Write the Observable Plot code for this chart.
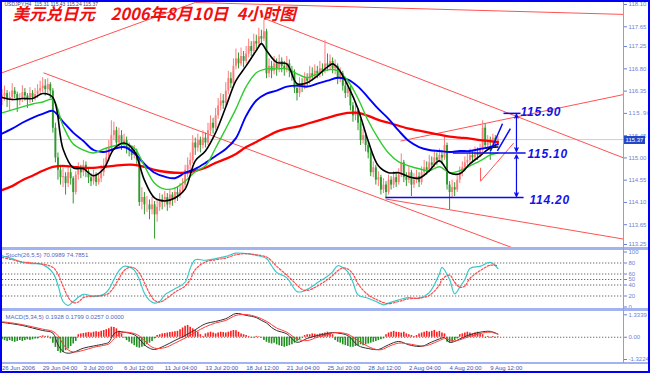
<!DOCTYPE html>
<html><head><meta charset="utf-8">
<script src="https://cdn.jsdelivr.net/npm/d3@7"></script>
<script src="https://cdn.jsdelivr.net/npm/@observablehq/plot@0.6"></script>
<style>
html,body{margin:0;padding:0;background:#fff;}
#wrap{position:relative;width:650px;height:373px;overflow:hidden;background:#fff;}
.pane{position:absolute;left:0;}
.pane svg{display:block;}
.sep{position:absolute;left:2px;width:646px;height:3px;background:#a3b3ef;}
#vaxis{position:absolute;left:623px;top:2px;width:1px;height:361px;background:#8a9cf0;}
#frame{position:absolute;left:0;top:0;width:646px;height:369px;border:2px solid #0000f4;}
#price{position:absolute;left:624px;width:21px;height:8px;background:#2646c8;color:#fff;font:6px "Liberation Sans",sans-serif;line-height:8px;text-align:center;}
</style></head><body>
<div id="wrap">
  <div id="main" class="pane" style="top:0"></div>
  <div id="stoch" class="pane" style="top:248px"></div>
  <div id="macd" class="pane" style="top:311px"></div>
  <div class="sep" style="top:247px"></div>
  <div class="sep" style="top:308px"></div>
  <div class="sep" style="top:362px;height:2px"></div>
  <div id="vaxis"></div>
  <div id="price">115.37</div>
  <div id="frame"></div>
</div>
<script>
// ---------- DATA ----------
const titleParts = ["美元兑日元", "2006年8月10日", "4小时图"];
const symbolLegend = "USDJPY,H4  115.31 115.43 115.24 115.37";
const stochLegend = "Stoch(26,5,5) 70.0989 74.7851";
const macdLegend = "MACD(5,34,5) 0.1928 0.1799 0.0257 0.0000";
const bid = 115.37;
const firstOpen = 116.20;

const close = [
116.25,116.30,116.18,116.22,116.35,116.28,116.15,116.20,116.32,116.25,116.18,116.30,116.22,116.28,116.35,116.40,116.45,116.38,116.48,116.35,
115.60,115.00,114.75,114.60,
114.62,114.48,114.70,114.58,114.30,114.65,114.78,114.70,114.85,114.72,114.60,114.52,114.65,114.50,114.58,
114.70,114.85,115.00,115.20,115.45,115.55,115.30,115.45,115.25,115.35,115.20,
115.15,115.05,115.10,114.95,114.10,114.20,114.05,114.05,113.95,114.05,113.85,114.00,114.15,
114.10,114.20,114.05,114.25,114.15,114.30,114.25,114.35,114.45,114.75,
114.85,114.95,115.30,115.20,115.35,115.25,115.40,115.30,115.55,115.70,115.60,115.85,116.05,116.15,116.10,116.35,116.60,116.50,116.85,117.00,116.90,117.05,116.95,117.10,117.25,117.15,117.35,117.30,117.45,117.40,117.55,
116.70,116.85,116.75,116.90,116.80,116.95,116.85,116.80,116.90,116.75,116.70,116.40,116.30,116.50,116.45,116.60,116.55,116.70,116.65,116.75,116.70,116.80,116.75,116.90,116.85,116.95,116.80,
116.85,116.60,116.70,116.45,116.30,116.40,116.05,115.85,115.95,115.70,115.35,115.45,115.25,115.10,114.70,114.80,114.55,114.60,114.35,114.45,114.30,
114.55,114.45,114.60,114.50,114.65,114.90,114.60,114.55,114.70,114.45,114.55,114.62,114.50,114.70,114.80,114.75,114.90,114.85,115.00,114.95,115.05,115.00,115.25,114.45,114.30,114.40,114.35,114.55,
114.70,114.80,114.90,114.95,115.05,115.00,115.10,115.05,115.15,115.60,115.25,115.35,115.30,115.40,115.31,115.37];

const high = [
116.38,116.45,116.36,116.33,116.50,116.42,116.33,116.30,116.46,116.40,116.30,116.42,116.36,116.40,116.48,116.55,116.62,116.58,116.60,116.52,
116.40,115.70,115.10,114.85,114.80,114.70,114.80,114.78,114.62,114.72,114.90,114.85,114.95,114.92,114.80,114.68,114.75,114.70,114.68,114.85,
114.98,115.20,115.35,115.75,115.72,115.62,115.60,115.55,115.48,115.42,115.30,115.22,115.25,115.18,115.00,114.40,114.30,114.22,114.15,114.20,
114.12,114.15,114.28,114.25,114.32,114.28,114.35,114.30,114.40,114.42,114.48,114.58,114.85,115.00,115.10,115.45,115.40,115.48,115.42,115.55,
115.50,115.70,115.85,115.80,116.00,116.20,116.30,116.28,116.52,116.75,116.72,117.00,117.20,117.12,117.22,117.15,117.25,117.40,117.35,117.50,
117.48,117.62,117.58,117.78,117.60,117.00,116.95,117.05,117.00,117.08,117.02,116.95,117.05,116.98,116.85,116.78,116.50,116.62,116.60,116.72,
116.70,116.85,116.82,116.88,116.85,116.95,116.90,117.37,117.10,117.08,117.02,116.98,116.90,116.82,116.75,116.52,116.55,116.45,116.12,116.08,
116.00,115.78,115.58,115.50,115.32,115.15,114.92,114.85,114.72,114.65,114.58,114.52,114.65,114.62,114.72,114.68,114.78,115.08,114.95,114.70,
114.82,114.75,114.68,114.75,114.70,114.82,114.95,114.92,115.05,115.02,115.15,115.10,115.18,115.15,115.45,115.30,114.52,114.55,114.50,114.68,
114.82,114.92,115.02,115.08,115.18,115.15,115.22,115.20,115.28,115.75,115.68,115.45,115.42,115.48,115.45,115.43];

const low = [
116.05,116.15,116.02,115.95,116.15,116.20,115.92,116.05,116.12,116.15,116.00,116.10,116.12,116.15,116.20,116.28,116.32,116.25,116.30,116.20,
115.50,114.90,114.55,114.45,114.40,114.25,114.40,114.45,114.07,114.25,114.55,114.58,114.62,114.60,114.48,114.42,114.45,114.42,114.45,114.50,
114.62,114.78,114.92,115.12,115.35,115.20,115.22,115.15,115.18,115.08,115.02,114.95,114.98,114.85,114.02,113.95,113.85,113.90,113.75,113.85,
113.36,113.70,113.92,113.95,114.00,113.92,113.98,114.02,114.08,114.12,114.18,114.28,114.38,114.60,114.72,114.88,115.05,115.12,115.10,115.18,
115.20,115.25,115.45,115.48,115.55,115.78,115.95,115.98,116.05,116.28,116.40,116.45,116.78,116.80,116.85,116.82,116.90,117.02,117.05,117.10,
117.18,117.22,117.30,117.35,116.60,116.62,116.60,116.68,116.65,116.72,116.72,116.65,116.72,116.62,116.55,116.30,116.15,116.22,116.32,116.38,
116.42,116.48,116.55,116.58,116.60,116.62,116.65,116.70,116.75,116.78,116.70,116.68,116.48,116.52,116.35,116.20,116.22,115.95,115.72,115.75,
115.55,115.25,115.28,115.12,114.98,114.62,114.60,114.45,114.42,114.25,114.28,114.18,114.25,114.35,114.38,114.40,114.45,114.60,114.50,114.42,
114.48,114.22,114.38,114.48,114.40,114.45,114.62,114.65,114.70,114.75,114.80,114.85,114.90,114.88,114.95,114.35,113.95,114.20,114.22,114.30,
114.48,114.62,114.72,114.82,114.88,114.90,114.95,114.95,115.00,115.10,115.18,115.20,114.95,115.22,115.20,115.24];

// moving averages
const blackIdx = [0,4,8,12,16,20,24,28,32,36,40,44,48,52,56,60,64,68,72,76,80,84,88,92,96,100,102,104,108,112,116,120,124,128,130,132,136,140,144,148,152,156,160,164,168,172,176,180,184,188,192,195];
const blackMA = [116.22,116.18,116.20,116.20,116.30,116.22,115.18,114.80,114.78,114.64,114.78,115.18,115.30,115.14,114.55,114.19,114.13,114.19,114.37,114.94,115.14,115.51,116.03,116.56,116.86,117.17,117.31,117.17,116.93,116.90,116.50,116.52,116.66,116.84,116.90,116.82,116.46,115.99,115.34,114.84,114.70,114.70,114.62,114.59,114.74,114.94,114.70,114.68,114.88,115.04,115.20,115.22];
const maIdx = [0,4,8,12,16,20,24,28,32,36,40,44,48,52,56,60,64,68,72,76,80,84,88,92,96,100,104,108,112,116,120,124,128,132,136,140,144,148,152,156,160,164,168,172,176,180,184,188,192,195];
const greenMA = [115.91,115.97,116.03,116.09,116.13,116.18,115.65,115.28,115.16,115.10,115.18,115.24,115.28,115.20,114.84,114.49,114.37,114.39,114.53,114.72,114.84,115.20,115.59,115.99,116.44,116.72,116.80,116.80,116.80,116.70,116.62,116.70,116.78,116.76,116.56,116.20,115.75,115.39,115.10,114.92,114.84,114.78,114.74,114.82,114.70,114.74,114.84,114.94,115.06,115.10];
const blueMA = [115.49,115.59,115.71,115.81,115.89,115.95,115.73,115.51,115.34,115.16,115.12,115.18,115.22,115.10,114.88,114.70,114.62,114.59,114.70,114.78,114.90,115.04,115.18,115.40,115.85,116.16,116.30,116.36,116.44,116.46,116.44,116.50,116.56,116.62,116.58,116.44,116.22,115.99,115.79,115.55,115.34,115.22,115.16,115.14,115.12,115.14,115.14,115.18,115.22,115.28];
const redMA = [114.35,114.43,114.55,114.64,114.74,114.82,114.84,114.82,114.80,114.80,114.82,114.84,114.86,114.86,114.82,114.76,114.72,114.70,114.70,114.74,114.80,114.90,114.98,115.08,115.22,115.32,115.43,115.53,115.59,115.63,115.69,115.75,115.81,115.87,115.91,115.91,115.85,115.77,115.71,115.65,115.59,115.55,115.51,115.47,115.43,115.41,115.39,115.36,115.34,115.32];

// drawn trend lines: [bar index, price] start and end
const trendStartX = [0, 76, 103, 16.3, 150.8, 156.7, 188.2, 188.2];
const trendStartY = [116.72, 118.14, 117.82, 116.72, 114.17, 115.34, 114.53, 114.80];
const trendEndX   = [76, 244.4, 244.4, 202, 244.4, 244.4, 201.2, 188.2];
const trendEndY   = [118.14, 117.90, 115.00, 113.16, 113.36, 116.28, 115.30, 114.53];

// blue annotation segments
const blueStartX = [150.8, 177.3, 197.2, 192.1, 194.8];
const blueStartY = [114.20, 115.10, 115.90, 115.14, 115.14];
const blueEndX   = [205.1, 205.9, 203.9, 196.8, 199.9];
const blueEndY   = [114.20, 115.10, 115.90, 115.69, 115.59];
// arrows (drawn from mid outwards)
const arrowX = 202.3;
const arrowFrom = [115.50, 115.50, 114.64, 114.64];
const arrowTo   = [115.88, 115.13, 115.06, 114.22];
// level labels
const levelText = ["115.90", "115.10", "114.20"];
const levelX = [203.9, 206.6, 207.4];
const levelY = [115.93, 115.07, 114.15];

const priceTicks = [113.25,113.65,114.10,114.55,115.00,115.45,115.90,116.35,116.80,117.25,117.65,118.10];

// Stochastic
const stochIdx = [0,4,8,12,16,20,22,24,26,28,32,36,40,42,44,46,48,50,52,54,56,58,60,62,64,68,72,74,76,80,84,88,92,96,100,104,106,108,112,116,118,120,124,128,130,132,134,136,138,140,144,148,150,152,156,160,164,168,172,173,176,178,180,182,184,188,192,195];
const stochMain = [93,88,81,79,77,62,40,10,3,10,23,19,23,32,50,66,74,73,67,50,25,12,7,10,22,33,45,70,86,85,88,92,98,97,94,88,75,63,53,28,28,32,44,56,64,75,72,64,45,22,16,8,4,7,13,17,16,26,60,72,50,24,36,50,70,74,81,70];
const signalIdx = [0,4,8,12,16,20,22,24,26,28,30,32,36,40,42,44,46,48,50,52,54,56,58,60,62,64,68,72,74,76,80,84,88,92,96,100,104,106,108,112,116,118,120,124,128,130,132,134,136,138,140,144,148,150,152,156,160,164,168,172,173,176,178,180,182,184,188,192,195];
const stochSignal = [90,86,82,80,78,72,60,38,18,8,9,17,20,21,25,36,52,66,72,71,62,44,25,12,9,13,27,38,50,68,82,86,89,95,97,95,91,84,74,58,40,32,30,38,50,57,66,71,69,60,42,22,12,8,6,10,15,16,21,40,50,58,45,36,38,52,66,76,75];
const stochLevels = [20,40,50,60,80];
const stochTicks = [0,20,40,50,60,80,100];

// MACD
const macdHist = [
-0.15,-0.2,-0.25,-0.2,-0.25,-0.3,-0.25,-0.2,-0.25,-0.2,-0.15,-0.2,-0.15,-0.1,-0.1,
0.05,0.08,0.05,0.06,-0.1,
-0.35,-0.6,-0.85,-0.95,-0.9,-0.8,-0.7,-0.55,-0.4,-0.25,
0.15,0.2,0.22,0.25,0.28,0.25,0.3,0.32,0.3,0.35,0.4,0.45,0.5,0.6,0.58,0.5,0.35,0.2,
-0.05,-0.2,-0.3,-0.4,-0.5,-0.6,-0.65,-0.6,-0.55,-0.45,-0.35,-0.25,-0.1,
0.1,0.15,0.2,0.22,0.25,0.28,0.3,0.32,0.35,0.45,0.55,0.65,0.7,0.6,0.5,0.4,0.3,0.15,0.05,
0.2,0.25,0.3,0.25,0.2,0.25,0.3,0.28,0.25,0.3,0.35,0.4,0.38,0.3,0.2,0.15,0.1,
0.05,-0.05,-0.05,0.05,0.03,-0.05,
-0.2,-0.3,-0.35,-0.4,-0.35,-0.45,-0.5,-0.55,-0.6,-0.55,-0.5,-0.45,-0.35,-0.25,-0.15,-0.05,
0.1,0.15,0.15,0.2,0.18,0.15,0.2,0.22,0.25,0.3,0.25,0.15,
-0.2,-0.3,-0.35,-0.45,-0.5,-0.55,-0.6,-0.6,-0.55,-0.5,-0.45,-0.5,-0.45,-0.4,-0.35,-0.3,-0.25,-0.2,-0.15,-0.1,
0.15,0.25,0.3,0.35,0.3,0.28,0.25,0.3,0.2,0.15,0.1,0.05,0.1,0.2,
0.25,0.3,0.35,0.3,0.35,0.4,0.3,0.35,0.25,0.2,
-0.3,-0.35,-0.3,-0.2,-0.1,
0.15,0.2,0.25,0.3,0.25,0.2,0.25,0.3,0.2,0.15,
-0.05,0.05,-0.05,0.05,-0.05,0.03];
const macdIdx = [0,4,8,12,16,20,22,24,26,28,32,36,40,42,44,46,48,52,54,56,58,60,64,68,72,76,80,84,88,92,96,100,102,104,106,108,112,116,120,124,128,130,132,136,140,144,148,150,152,156,160,164,166,168,172,174,176,178,180,184,188,192,195];
const macdMain = [0.88,0.80,0.70,0.55,0.40,0.25,-0.45,-0.85,-0.95,-0.90,-0.65,-0.52,-0.40,-0.30,0.20,0.34,0.30,0.15,-0.10,-0.45,-0.65,-0.73,-0.50,-0.19,0.10,0.45,0.80,0.94,1.10,1.41,1.30,1.17,1.00,0.85,0.58,0.40,0.20,-0.30,-0.07,0.10,0.22,0.28,0.25,0.10,-0.49,-0.67,-0.73,-0.60,-0.45,-0.25,-0.45,-0.55,-0.50,-0.35,-0.10,-0.02,-0.30,-0.25,-0.10,0.15,0.30,0.35,0.19];
const macdSignal = [0.92,0.85,0.75,0.62,0.48,0.35,0.10,-0.40,-0.75,-0.88,-0.78,-0.60,-0.48,-0.40,-0.10,0.20,0.30,0.22,0.08,-0.20,-0.48,-0.65,-0.62,-0.35,-0.05,0.30,0.62,0.85,1.00,1.30,1.35,1.22,1.10,0.95,0.75,0.55,0.30,-0.10,-0.20,0.00,0.15,0.25,0.28,0.18,-0.20,-0.55,-0.75,-0.70,-0.55,-0.35,-0.40,-0.50,-0.52,-0.45,-0.20,-0.08,-0.15,-0.22,-0.15,0.05,0.22,0.30,0.18];
const macdTicks = [1.3339, 0, -1.3224];
const macdTickLabels = ["1.3339", "0.00", "-1.3224"];

const timeTickIdx = [0,16,32,48,64,80,96,112,128,144,160,176,192];
const timeTickLabels = ["26 Jun 2006","29 Jun 04:00","3 Jul 20:00","6 Jul 12:00","11 Jul 04:00","13 Jul 20:00","18 Jul 12:00","21 Jul 04:00","25 Jul 20:00","28 Jul 12:00","2 Aug 04:00","4 Aug 20:00","9 Aug 12:00"];

// ---------- DRAWING ----------
const FONT = "'Liberation Sans', Arial, sans-serif";
const AXC = "#6b7fd7";
const n = close.length;
const bars = d3.range(n);
const open = bars.map(j => j === 0 ? firstOpen : close[j - 1]);
const upBars = bars.filter(j => close[j] >= open[j]);
const dnBars = bars.filter(j => close[j] < open[j]);
const UP = "#ff7b7b", DN = "#2f9a2f";
const X = {domain: [0, 195], range: [1.5, 497.4]};
const baseStyle = {background: "transparent", fontFamily: FONT, fontSize: "6px", color: AXC, overflow: "visible"};
const seq = a => d3.range(a.length);
const TITLE_FONT = "'Noto Sans CJK SC', sans-serif";

const candleMarks = (data, col) => [
  Plot.ruleX(data, {x: j => j, y1: j => low[j], y2: j => high[j], stroke: col, strokeWidth: 1}),
  Plot.ruleX(data, {x: j => j, y1: j => open[j], y2: j => close[j], stroke: col, strokeWidth: 1.9})
];

const main = Plot.plot({
  width: 650, height: 248,
  marginLeft: 2, marginRight: 27, marginTop: 2, marginBottom: 1,
  x: {...X, axis: null},
  y: {domain: [113.25, 118.10], range: [244, 4]},
  style: baseStyle,
  marks: [
    Plot.ruleY([bid], {stroke: "#cfcfcf", strokeWidth: 1}),
    Plot.link(seq(trendStartX), {x1: j => trendStartX[j], y1: j => trendStartY[j], x2: j => trendEndX[j], y2: j => trendEndY[j], stroke: "#ff5252", strokeWidth: 1, clip: true}),
    ...candleMarks(upBars, UP),
    ...candleMarks(dnBars, DN),
    Plot.line(redMA, {x: maIdx, y: redMA, stroke: "#ff0000", strokeWidth: 2.3, curve: "catmull-rom"}),
    Plot.line(blueMA, {x: maIdx, y: blueMA, stroke: "#0000ff", strokeWidth: 1.9, curve: "catmull-rom"}),
    Plot.line(greenMA, {x: maIdx, y: greenMA, stroke: "#2ecc2e", strokeWidth: 1.4, curve: "catmull-rom"}),
    Plot.line(blackMA, {x: blackIdx, y: blackMA, stroke: "#000000", strokeWidth: 1.6, curve: "catmull-rom"}),
    Plot.link(seq(blueStartX), {x1: j => blueStartX[j], y1: j => blueStartY[j], x2: j => blueEndX[j], y2: j => blueEndY[j], stroke: "#0a0af0", strokeWidth: 1.5}),
    Plot.arrow(seq(arrowFrom), {x1: arrowX, y1: j => arrowFrom[j], x2: arrowX, y2: j => arrowTo[j], stroke: "#0a0af0", strokeWidth: 1.2, headLength: 5, headAngle: 50}),
    Plot.text(seq(levelText), {x: j => levelX[j], y: j => levelY[j], text: j => levelText[j], textAnchor: "start", fill: "#1414e6", fontSize: 12, fontStyle: "italic", fontWeight: "bold", fontFamily: FONT}),
    Plot.text([symbolLegend], {frameAnchor: "top-left", dx: 2, dy: 0, lineAnchor: "top", text: d => d, fill: "#3a4070", fontSize: 5}),
    Plot.text([titleParts[0]], {frameAnchor: "top-left", dx: 10, dy: 6, lineAnchor: "top", text: d => d, fill: "#f01010", fontSize: 16.5, fontStyle: "italic", fontWeight: "bold", fontFamily: TITLE_FONT}),
    Plot.text([titleParts[1]], {frameAnchor: "top-left", dx: 108, dy: 6, lineAnchor: "top", text: d => d, fill: "#f01010", fontSize: 16.5, fontStyle: "italic", fontWeight: "bold", fontFamily: TITLE_FONT}),
    Plot.text([titleParts[2]], {frameAnchor: "top-left", dx: 234, dy: 6, lineAnchor: "top", text: d => d, fill: "#f01010", fontSize: 16.5, fontStyle: "italic", fontWeight: "bold", fontFamily: TITLE_FONT}),
    Plot.axisY({anchor: "right", ticks: priceTicks, tickFormat: d => d.toFixed(2), tickSize: 3, tickPadding: 2})
  ]
});
d3.select(main).selectAll("text").filter(function () { return levelText.includes(this.textContent); }).style("letter-spacing", "0.8px");
document.getElementById("main").append(main);
const py = main.scale("y").apply(bid);
document.getElementById("price").style.top = (py - 3) + "px";

const stoch = Plot.plot({
  width: 650, height: 60,
  marginLeft: 2, marginRight: 27, marginTop: 2, marginBottom: 0,
  x: {...X, axis: null},
  y: {domain: [0, 100], range: [58.5, 3.5]},
  style: baseStyle,
  marks: [
    Plot.ruleY(stochLevels, {stroke: "#6a6a6a", strokeWidth: 1, strokeDasharray: "1.3,1.7"}),
    Plot.line(stochMain, {x: stochIdx, y: stochMain, stroke: "#3cc8c8", strokeWidth: 1.2, curve: "catmull-rom"}),
    Plot.line(stochSignal, {x: signalIdx, y: stochSignal, stroke: "#ff4a4a", strokeWidth: 1.2, strokeDasharray: "2,1.6", curve: "catmull-rom"}),
    Plot.text([stochLegend], {frameAnchor: "top-left", dx: 3, dy: 2, lineAnchor: "top", text: d => d, fill: "#5565c0", fontSize: 6}),
    Plot.axisY({anchor: "right", ticks: stochTicks, tickSize: 3, tickPadding: 2})
  ]
});
document.getElementById("stoch").append(stoch);

const macd = Plot.plot({
  width: 650, height: 62,
  marginLeft: 2, marginRight: 27, marginTop: 0, marginBottom: 11,
  x: X,
  y: {domain: [-1.3224, 1.3339], range: [48, 3.3]},
  style: baseStyle,
  marks: [
    Plot.ruleY([0], {stroke: "#6a6a6a", strokeWidth: 1, strokeDasharray: "1.3,1.7"}),
    Plot.ruleX(bars.filter(j => macdHist[j] >= 0), {x: j => j, y1: 0, y2: j => macdHist[j], stroke: "#ff1c1c", strokeWidth: 1.6}),
    Plot.ruleX(bars.filter(j => macdHist[j] < 0), {x: j => j, y1: 0, y2: j => macdHist[j], stroke: "#1f8f1f", strokeWidth: 1.6}),
    Plot.line(macdMain, {x: macdIdx, y: macdMain, stroke: "#303030", strokeWidth: 1, curve: "catmull-rom"}),
    Plot.line(macdSignal, {x: macdIdx, y: macdSignal, stroke: "#ff3a3a", strokeWidth: 1, curve: "catmull-rom"}),
    Plot.text([macdLegend], {frameAnchor: "top-left", dx: 3, dy: 3, lineAnchor: "top", text: d => d, fill: "#5565c0", fontSize: 6}),
    Plot.axisY({anchor: "right", ticks: macdTicks, tickFormat: d => macdTickLabels[macdTicks.indexOf(d)], tickSize: 3, tickPadding: 2}),
    Plot.axisX({anchor: "bottom", ticks: timeTickIdx, tickFormat: d => timeTickLabels[timeTickIdx.indexOf(d)], tickSize: 2, tickPadding: 1, textAnchor: "start", color: "#4555b5"})
  ]
});
document.getElementById("macd").append(macd);
</script>
</body></html>
